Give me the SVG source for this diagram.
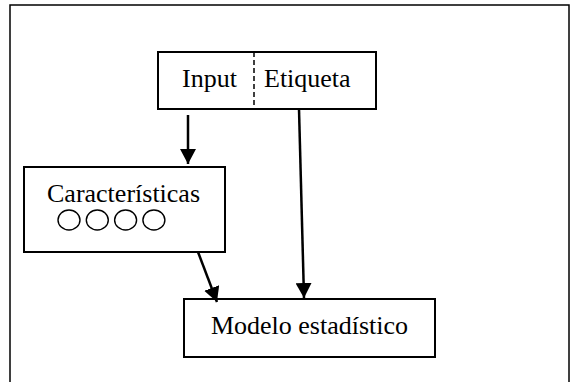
<svg xmlns="http://www.w3.org/2000/svg" width="570" height="382" viewBox="0 0 570 382">
<defs>
<style>
.box{fill:#fff;stroke:#000;stroke-width:2}
.lbl{font-family:"Liberation Serif","Times New Roman",serif;font-size:26px;fill:#000}
.edge{stroke:#000;stroke-width:2.5;fill:none}
.dot{fill:none;stroke:#000;stroke-width:1.4}
</style>
<marker id="ah" markerUnits="userSpaceOnUse" markerWidth="16" markerHeight="16" refX="15" refY="8" orient="auto">
<path d="M0,0 L15,8 L0,16 Z" fill="#000"/>
</marker>
</defs>
<rect x="0" y="0" width="570" height="382" fill="#fff"/>
<rect id="frame" x="10" y="5" width="559" height="390" fill="none" stroke="#000" stroke-width="1.5"/>
<g id="input-etiqueta">
<rect class="box" x="158" y="52" width="218" height="57"/>
<line x1="254" y1="52" x2="254" y2="109" stroke="#000" stroke-width="1.5" stroke-dasharray="5,3"/>
<text class="lbl" x="182" y="87">Input</text>
<text class="lbl" x="264" y="87">Etiqueta</text>
</g>
<g id="caracteristicas">
<rect class="box" x="24" y="167" width="201" height="85"/>
<text class="lbl" x="47" y="202">Características</text>
<ellipse class="dot" cx="69" cy="220" rx="11" ry="10"/>
<ellipse class="dot" cx="97.3" cy="220" rx="11" ry="10"/>
<ellipse class="dot" cx="125.6" cy="220" rx="11" ry="10"/>
<ellipse class="dot" cx="153.9" cy="220" rx="11" ry="10"/>
</g>
<g id="modelo">
<rect class="box" x="184" y="299" width="251" height="58"/>
<text class="lbl" x="309.5" y="334" text-anchor="middle">Modelo estadístico</text>
</g>
<g id="connectors">
<line class="edge" x1="188" y1="115" x2="188" y2="164" marker-end="url(#ah)"/>
<line class="edge" x1="299" y1="109" x2="304" y2="298" marker-end="url(#ah)"/>
<line class="edge" x1="198" y1="252" x2="217" y2="302" marker-end="url(#ah)"/>
</g>
</svg>
